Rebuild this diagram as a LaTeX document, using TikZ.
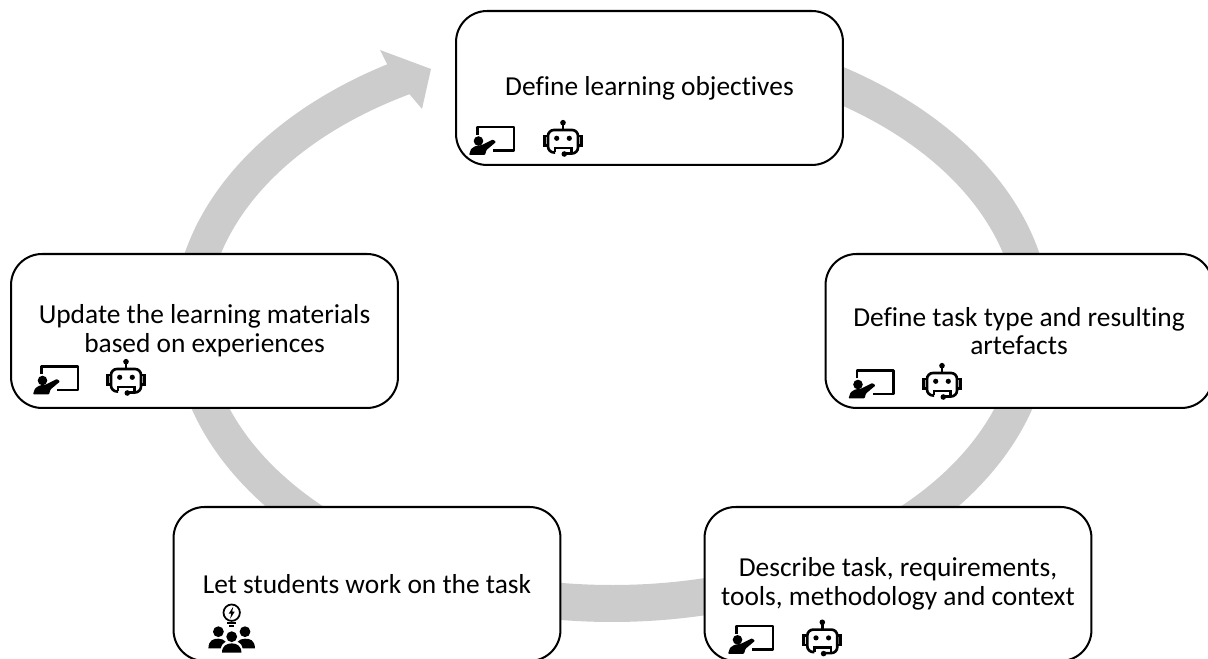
\documentclass[tikz,border=0pt]{standalone}
\usepackage{fontspec}
\setmainfont[Ligatures=NoCommon]{Carlito}
\usetikzlibrary{positioning}
\definecolor{ringgray}{HTML}{CCCCCC}
\tikzset{
	stepbox/.style={draw=black,fill=white,line width=1.15pt,rounded corners=0.62cm,minimum width=7.74cm,minimum height=3.08cm,align=center,outer sep=0pt,font=\fontsize{15.6}{16.4}\selectfont},
	teacher/.pic={
		\draw [line width=1.45pt,line join=round] (0,15.5) -- (0,23.5) -- (36.5,23.5) -- (36.5,0) -- (15.5,0);
		\fill (1,9.5) circle (4.8);
		\fill [rounded corners=0.5pt] (-8.5,-4.5) -- (-6.5,1.5) -- (-2,4.5) -- (4.5,5.5) -- (15.5,11) -- (18.5,8.5) -- (9,0.5) -- (7.5,-4.5) -- cycle;
	},
	robot/.pic={
		\draw [line width=1.5pt,rounded corners=1.2mm] (-8,-11.5) -- (-15,-11.5) -- (-15,11) -- (15,11) -- (15,-12.5) -- (1.3,-12.5);
		\draw [line width=1.5pt] (-8,-11.5) -- (-8,-7) -- (8.7,-7) -- (8.7,-12.5);
		\draw [line width=1.5pt] (-15,5) -- (-18.5,5) -- (-18.5,-4.5) -- (-15,-4.5);
		\draw [line width=1.5pt] (15,5) -- (18.5,5) -- (18.5,-4.5) -- (15,-4.5);
		\draw [line width=1.5pt] (0,11) -- (0,18);
		\fill (0,18.3) circle (2.8);
		\fill (1.3,-13) circle (2.8);
		\fill (-6.3,2.7) circle (2.6);
		\fill (6.3,2.7) circle (2.6);
	},
	team/.pic={
		% bulb
		\draw [line width=1pt] (0,24) circle (8.2);
		\fill (1.5,30) -- (-3,23) -- (-0.5,23) -- (-1.5,18) -- (3,25) -- (0.5,25) -- cycle;
		\draw [line width=1pt] (-4.3,13.4) -- (4.3,13.4);
		\draw [line width=1pt] (-2.5,10.6) -- (2.5,10.6);
		% heads
		\fill (-13.3,5) circle (5.4);
		\fill (13.3,5) circle (5.4);
		\fill (0,0) circle (5.4);
		% bodies
		\fill (-23.3,-11.6) .. controls (-23,-3) and (-18,-2) .. (-13.3,-2) .. controls (-10,-2) and (-8,-3) .. (-6,-5) .. controls (-9,-7) and (-11,-9) .. (-11,-11.6) -- cycle;
		\fill (23.3,-11.6) .. controls (23,-3) and (18,-2) .. (13.3,-2) .. controls (10,-2) and (8,-3) .. (6,-5) .. controls (9,-7) and (11,-9) .. (11,-11.6) -- cycle;
		\fill (-9.7,-16) .. controls (-9.7,-9) and (-5,-6.7) .. (0,-6.7) .. controls (5,-6.7) and (9.7,-9) .. (9.7,-16) -- cycle;
	},
}

\begin{document}
\begin{tikzpicture}[x=0.02cm,y=0.02cm]
	\useasboundingbox (0,0) rectangle (1208,659);
	\clip (0,0) rectangle (1208,659);

	%ring with arrow head.....................
	\fill [ringgray] (612,637) arc [start angle=90,end angle=-239.2,x radius=439,y radius=300]
		-- (380,609) -- (431,590) -- (422,550) -- (409.5,564.8)
		arc [start angle=-240,end angle=90,x radius=405,y radius=263] -- cycle;

	%boxes......................
	\node [stepbox] (objectives) at (649.5,571) {Define learning objectives};
	\node [stepbox] (artefacts) at (1019,328) {Define task type and resulting\\artefacts};
	\node [stepbox] (describe) at (898,75) {Describe task, requirements,\\tools, methodology and context};
	\node [stepbox] (work) at (367,75) {Let students work on the task};
	\node [stepbox] (update) at (204.5,328) {Update the learning materials\\based on experiences};

	%icons......................
	\pic (teacherA) at (477.5,508.5) {teacher};
	\pic (robotA) at (563,518) {robot};
	\pic (teacherB) at (857,265) {teacher};
	\pic (robotB) at (942,275) {robot};
	\pic (teacherC) at (736.5,9.7) {teacher};
	\pic (robotC) at (822.3,18.4) {robot};
	\pic (teacherD) at (41.5,269) {teacher};
	\pic (robotD) at (126,279) {robot};
	\pic (teamA) at (231.7,22.3) {team};
\end{tikzpicture}
\end{document}
